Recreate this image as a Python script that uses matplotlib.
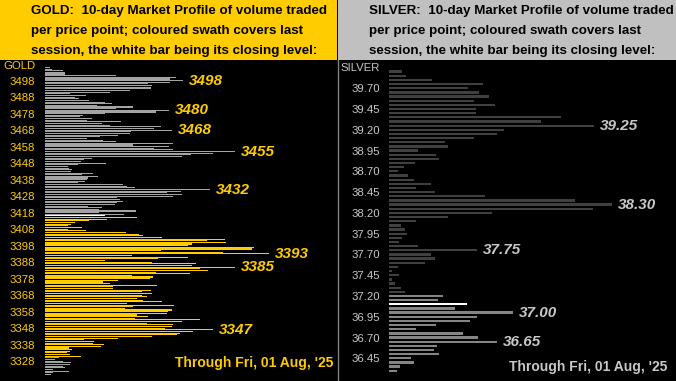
import matplotlib.pyplot as plt
import numpy as np

plt.rcParams['font.family'] = ['Liberation Sans', 'DejaVu Sans']

# gold: one bar per $1, top to bottom
gold_prices = np.arange(3506, 3319, -1)
gold_vol = [5, 7, 18, 20, 20, 71, 131, 125, 138, 125,
            103, 107, 106, 106, 85, 65, 25, 41, 30, 34,
            44, 60, 67, 52, 88, 71, 124, 111, 60, 38,
            35, 47, 42, 76, 57, 65, 116, 109, 127, 86,
            85, 73, 55, 42, 58, 71, 128, 88, 124, 109,
            128, 190, 168, 146, 137, 47, 39, 36, 61, 33,
            23, 24, 27, 26, 48, 37, 53, 43, 42, 40,
            33, 78, 82, 90, 165, 136, 122, 137, 128, 72,
            75, 78, 72, 70, 43, 57, 54, 91, 54, 79,
            60, 92, 62, 44, 30, 26, 23, 37, 23, 41,
            81, 94, 98, 117, 180, 162, 181, 147, 143, 209,
            207, 116, 178, 224, 87, 143, 113, 60, 107, 151,
            147, 190, 155, 163, 111, 145, 87, 108, 105, 73,
            58, 65, 112, 68, 68, 106, 97, 107, 97, 102,
            92, 98, 117, 82, 129, 88, 80, 127, 123, 122,
            92, 103, 90, 155, 137, 102, 128, 127, 120, 168,
            148, 135, 132, 107, 73, 39, 49, 48, 59, 56,
            24, 27, 25, 22, 25, 36, 14, 10, 18, 26,
            25, 18, 20, 8, 24, 8, 6]
gold_ticks = np.arange(3328, 3499, 10)
gold_peaks = [3498, 3480, 3468, 3455, 3432, 3393, 3385, 3347]
gold_close = 3416
gold_session = (3331, 3415)

# silver: one bar per $0.05
silver_prices = np.round(np.arange(39.90, 36.29, -0.05), 2)
silver_vol = [13, 17, 43, 94, 79, 90, 100, 85, 106, 87,
              87, 172, 152, 205, 115, 108, 85, 56, 59, 29,
              47, 50, 26, 15, 9, 19, 25, 42, 27, 46,
              96, 186, 223, 204, 103, 59, 27, 12, 16, 18,
              13, 10, 29, 88, 42, 46, 36, 9, 3, 10,
              3, 6, 12, 16, 54, 49, 78, 66, 124, 88,
              81, 47, 27, 74, 89, 108, 48, 45, 50, 22,
              25, 11, 8]
silver_ticks = np.round(np.arange(36.45, 39.71, 0.25), 2)
silver_peaks = [39.25, 38.30, 37.75, 37.00, 36.65]
silver_close = 37.10
silver_session = (36.30, 37.20)

GOLD = '#FFCC00'
SILV = '#C8C8C8'
W, H = 676, 381

fig = plt.figure(figsize=(6.76, 3.81), dpi=100, facecolor='black')

# header boxes
fig.patches.append(plt.Rectangle((0, 1 - 60 / H), 337 / W, 60 / H, transform=fig.transFigure,
                                 facecolor=GOLD, edgecolor='none'))
fig.patches.append(plt.Rectangle((338 / W, 1 - 60 / H), 338 / W, 60 / H, transform=fig.transFigure,
                                 facecolor='#C0C0C0', edgecolor='none'))
fig.lines.append(plt.Line2D([337.5 / W] * 2, [0, 1 - 60 / H], transform=fig.transFigure,
                            color='#808080', lw=1))

lines = ['10-day Market Profile of volume traded',
         'per price point; coloured swath covers last',
         'session, the white bar being its closing level:']
for x0, name in [(31, 'GOLD'), (369, 'SILVER')]:
    for i, ln in enumerate(lines):
        t = (name + ':  ' + ln) if i == 0 else ln
        fig.text(x0 / W, 1 - (11 + 20 * i) / H, t, ha='left', va='center',
                 fontsize=9.6, fontweight='bold', color='black')


def panel(rect, prices, vol, step, session, close, base, light, tcol, ticks, fmt,
          ylim, xmax, peaks, pad, hfrac):
    ax = fig.add_axes(rect)
    ax.set_facecolor('black')
    cols = []
    for p in prices:
        if abs(p - close) < step / 2:
            cols.append('white')
        elif session[0] - step / 2 < p < session[1] + step / 2:
            cols.append(light)
        else:
            cols.append(base)
    ax.barh(prices, vol, height=step * hfrac, color=cols, antialiased=False)
    ax.set_ylim(*ylim)
    ax.set_xlim(0, xmax)
    ax.set_yticks(ticks)
    ax.set_yticklabels([fmt.format(t) for t in ticks])
    ax.tick_params(axis='y', length=0, pad=pad, labelsize=8.2, labelcolor=tcol)
    ax.set_xticks([])
    for s in ax.spines.values():
        s.set_visible(False)
    vmap = dict(zip(np.round(prices, 2), vol))
    for p in peaks:
        ax.annotate(fmt.format(p), xy=(vmap[round(p, 2)], p),
                    xytext=(4, 0), textcoords='offset points', ha='left', va='center',
                    fontsize=11, fontweight='bold', fontstyle='italic', color=tcol)
    return ax


ax1 = panel([45 / W, 0, 292 / W, 321 / H], gold_prices, gold_vol, 1, gold_session, gold_close,
            '#A4A4A4', GOLD, GOLD, gold_ticks, '{}', (3316, 3510.5), 292, gold_peaks, 7.2, 0.65)

ax2 = panel([389 / W, 0, 287 / W, 321 / H], silver_prices, silver_vol, 0.05, silver_session,
            silver_close, '#404040', '#858585', SILV, silver_ticks, '{:.2f}', (36.177, 40.04), 287,
            silver_peaks, 6.5, 0.55)

fig.text(35 / W, 1 - 66 / H, 'GOLD', ha='right', va='center', fontsize=8.2, color=GOLD)
fig.text(380 / W, 1 - 68 / H, 'SILVER', ha='right', va='center', fontsize=8.2, color=SILV)

fig.text(333 / W, 1 - 363 / H, "Through Fri, 01 Aug, '25", ha='right', va='center',
         fontsize=10, fontweight='bold', color=GOLD)
fig.text(667 / W, 1 - 367 / H, "Through Fri, 01 Aug, '25", ha='right', va='center',
         fontsize=10, fontweight='bold', color=SILV)

fig.savefig('out.png', dpi=100, facecolor='black')
